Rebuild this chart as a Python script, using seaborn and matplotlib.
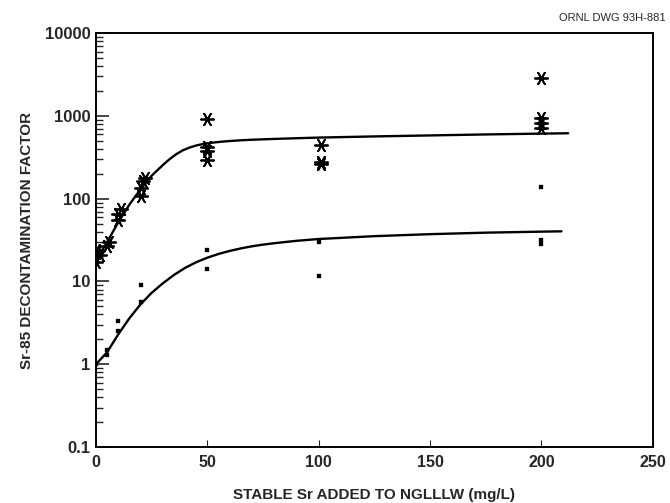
"""Sr-85 decontamination factor vs stable Sr added (ORNL DWG 93H-881)"""

import pandas as pd
import seaborn as sns
import matplotlib.pyplot as plt
from matplotlib.ticker import LogLocator, NullFormatter

sns.set_style("ticks")
plt.rcParams["font.family"] = ["Liberation Sans", "DejaVu Sans"]

# measured points, upper series (asterisks)
star_x = [0, 0, 0, 2, 5, 6, 10, 10, 11, 20, 20, 21, 22,
          50, 50, 50, 50, 101, 101, 101, 200, 200, 200, 200]
star_y = [17, 22, 24, 21, 27, 30, 55, 65, 75, 108, 135, 165, 180,
          930, 420, 380, 295, 440, 280, 262, 2900, 940, 820, 720]

# measured points, lower series (squares)
sq_x = [0, 5, 5, 10, 10, 20, 20, 50, 50, 100, 100, 200, 200, 200]
sq_y = [1.0, 1.3, 1.5, 2.5, 3.3, 5.6, 9.1, 24, 14, 30, 11.7, 138, 32, 28]

# fitted curves
curve_x = [0, 5, 10, 15, 20, 25, 30, 33, 36, 39, 42, 45, 48, 52, 56,
           60, 65, 70, 80, 90, 100, 125, 150, 175, 200, 212]
upper_curve = [18, 30, 52, 85, 130, 190, 255, 300, 345, 385, 415, 440,
               458, 475, 488, 498, 508, 516, 528, 538, 548, 566, 582,
               598, 612, 618]
lower_x = [0, 5, 10, 15, 20, 25, 30, 35, 40, 45, 50, 55, 60, 65, 70,
           75, 80, 90, 100, 125, 150, 175, 200, 209]
lower_curve = [1.0, 1.4, 2.3, 3.6, 5.3, 7.3, 9.5, 12, 14.6, 17.1, 19.4,
               21.5, 23.4, 25.1, 26.6, 27.9, 29.0, 31.0, 32.6, 35.3,
               37.3, 38.9, 40.0, 40.4]

y_ticks = [0.1, 1, 10, 100, 1000, 10000]
y_labels = ["0.1", "1", "10", "100", "1000", "10000"]
x_ticks = [0, 50, 100, 150, 200, 250]


def main():
    fig = plt.figure(figsize=(6.7, 5.03), dpi=100)
    ax = fig.add_axes([0.1433, 0.1113, 0.831, 0.8227])

    stars = pd.DataFrame({"x": star_x, "y": star_y})
    squares = pd.DataFrame({"x": sq_x, "y": sq_y})
    up = pd.DataFrame({"x": curve_x, "y": upper_curve})
    low = pd.DataFrame({"x": lower_x, "y": lower_curve})

    sns.lineplot(data=up, x="x", y="y", color="black", linewidth=1.7,
                 estimator=None, sort=False, ax=ax)
    sns.lineplot(data=low, x="x", y="y", color="black", linewidth=1.7,
                 estimator=None, sort=False, ax=ax)
    sns.scatterplot(data=stars, x="x", y="y", marker=(6, 2, 90), s=90,
                    color="black", linewidth=1.3, ax=ax)
    sns.scatterplot(data=squares, x="x", y="y", marker="s", s=8,
                    color="black", edgecolor="black", ax=ax)

    ax.set_yscale("log")
    ax.set_xlim(0, 250)
    ax.set_ylim(0.1, 10000)

    ax.set_yticks(y_ticks)
    ax.set_yticklabels(y_labels)
    ax.yaxis.set_minor_locator(LogLocator(base=10, subs=range(2, 10), numticks=20))
    ax.yaxis.set_minor_formatter(NullFormatter())
    ax.set_xticks(x_ticks)
    ax.set_xticklabels([str(t) for t in x_ticks])

    ax.tick_params(axis="y", which="major", direction="in", length=9, width=1.2,
                   labelsize=12, pad=4)
    ax.tick_params(axis="y", which="minor", direction="in", length=5, width=1.0)
    ax.tick_params(axis="x", which="major", direction="in", length=5, width=0.8,
                   labelsize=11.5, pad=6)
    for lab in ax.get_xticklabels() + ax.get_yticklabels():
        lab.set_fontweight("bold")

    for side in ["left", "right", "top", "bottom"]:
        ax.spines[side].set_linewidth(1.4)
        ax.spines[side].set_color("black")

    ax.set_xlabel("STABLE Sr ADDED TO NGLLLW (mg/L)", fontsize=11,
                  fontweight="bold", labelpad=13)
    ax.set_ylabel("Sr-85 DECONTAMINATION FACTOR", fontsize=11,
                  fontweight="bold", labelpad=8)

    fig.text(0.993, 0.955, "ORNL DWG 93H-881", ha="right", va="bottom",
             fontsize=8)

    plt.savefig("out.png", dpi=100)


if __name__ == "__main__":
    main()
